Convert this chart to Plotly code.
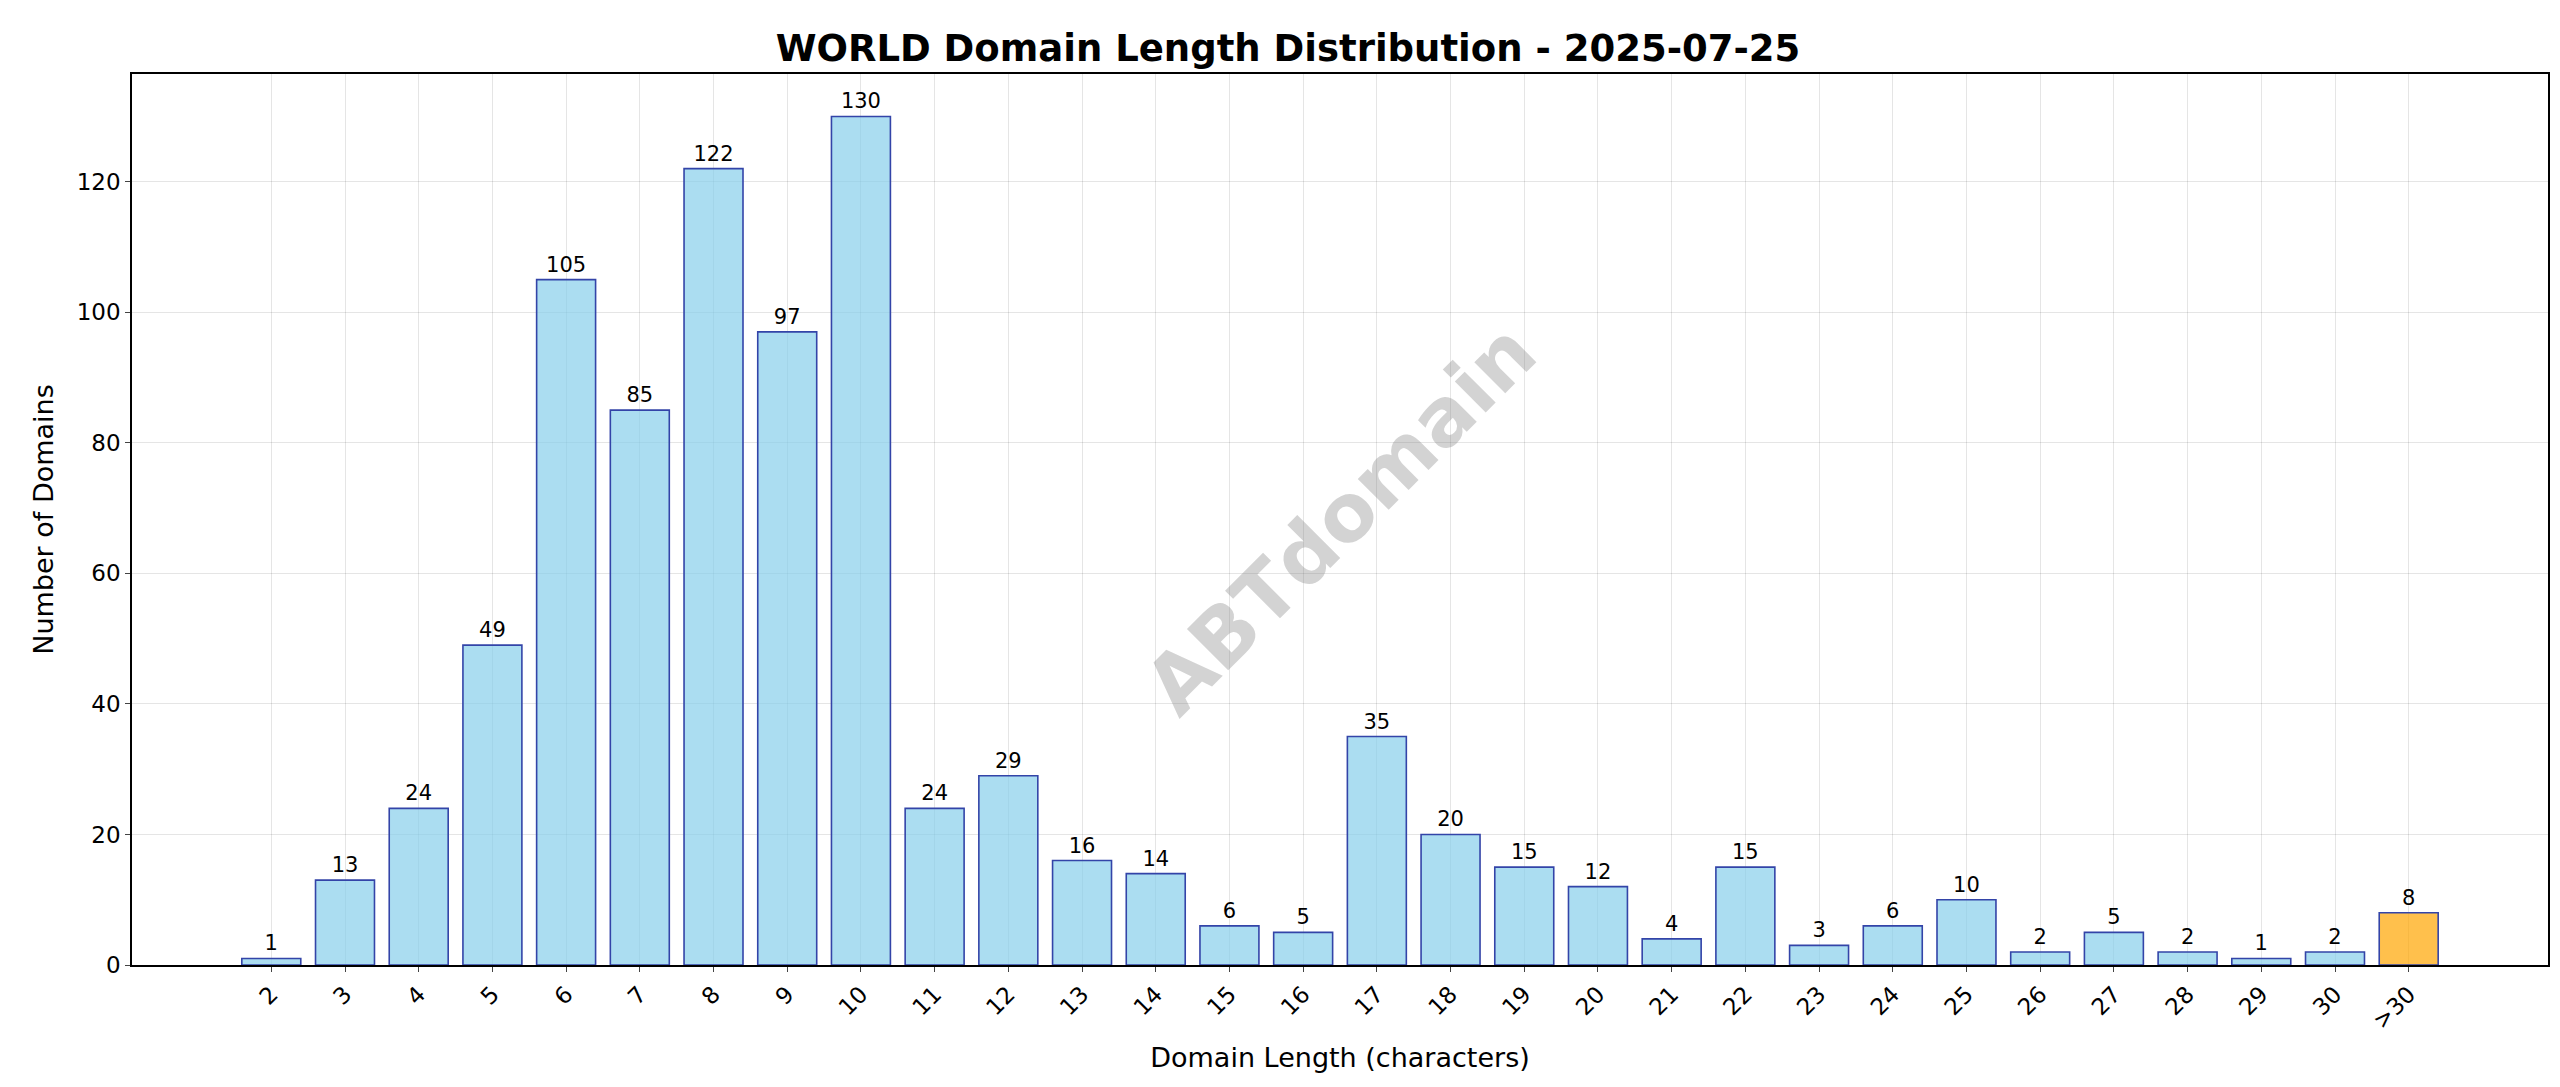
import plotly.graph_objects as go

lengths = [str(i) for i in range(2, 31)] + [">30"]
counts = [1, 13, 24, 49, 105, 85, 122, 97, 130, 24, 29, 16, 14, 6, 5, 35, 20, 15, 12, 4,
          15, 3, 6, 10, 2, 5, 2, 1, 2, 8]

colors = ["rgba(135,206,235,0.7)"] * (len(lengths) - 1) + ["rgba(255,165,0,0.7)"]

fig = go.Figure()
fig.add_trace(go.Bar(
    x=list(range(len(lengths))), y=counts, width=0.8,
    marker=dict(color=colors, line=dict(color="#3344a8", width=1.6)),
    text=[str(c) for c in counts], textposition="outside",
    textfont=dict(size=21, color="black"), cliponaxis=False,
))

fig.add_annotation(
    text="<b>ABTdomain</b>", xref="paper", yref="paper", x=0.5, y=0.5,
    showarrow=False, textangle=-45, font=dict(size=80, color="rgba(128,128,128,0.35)"),
)

axis_common = dict(showline=True, linecolor="black", linewidth=1.5, mirror=True,
                   showgrid=True, gridcolor="rgba(0,0,0,0.1)", ticks="outside",
                   tickfont=dict(size=23, color="black"), zeroline=False)

fig.update_layout(
    width=2560, height=1087,
    paper_bgcolor="white", plot_bgcolor="white",
    font=dict(family="DejaVu Sans", color="black"),
    title=dict(text="<b>WORLD Domain Length Distribution - 2025-07-25</b>",
               x=0.5, xanchor="center", y=0.975, font=dict(size=37)),
    margin=dict(l=124, r=20, t=66, b=130),
    showlegend=False, bargap=0.2,
    xaxis=dict(axis_common, tickmode="array", tickvals=list(range(len(lengths))),
               ticktext=lengths, tickangle=-45, range=[-1.89, 30.89],
               title=dict(text="Domain Length (characters)", font=dict(size=27))),
    yaxis=dict(axis_common, range=[0, 136.5], dtick=20,
               title=dict(text="Number of Domains", font=dict(size=27))),
)

fig.write_html("out.html")
